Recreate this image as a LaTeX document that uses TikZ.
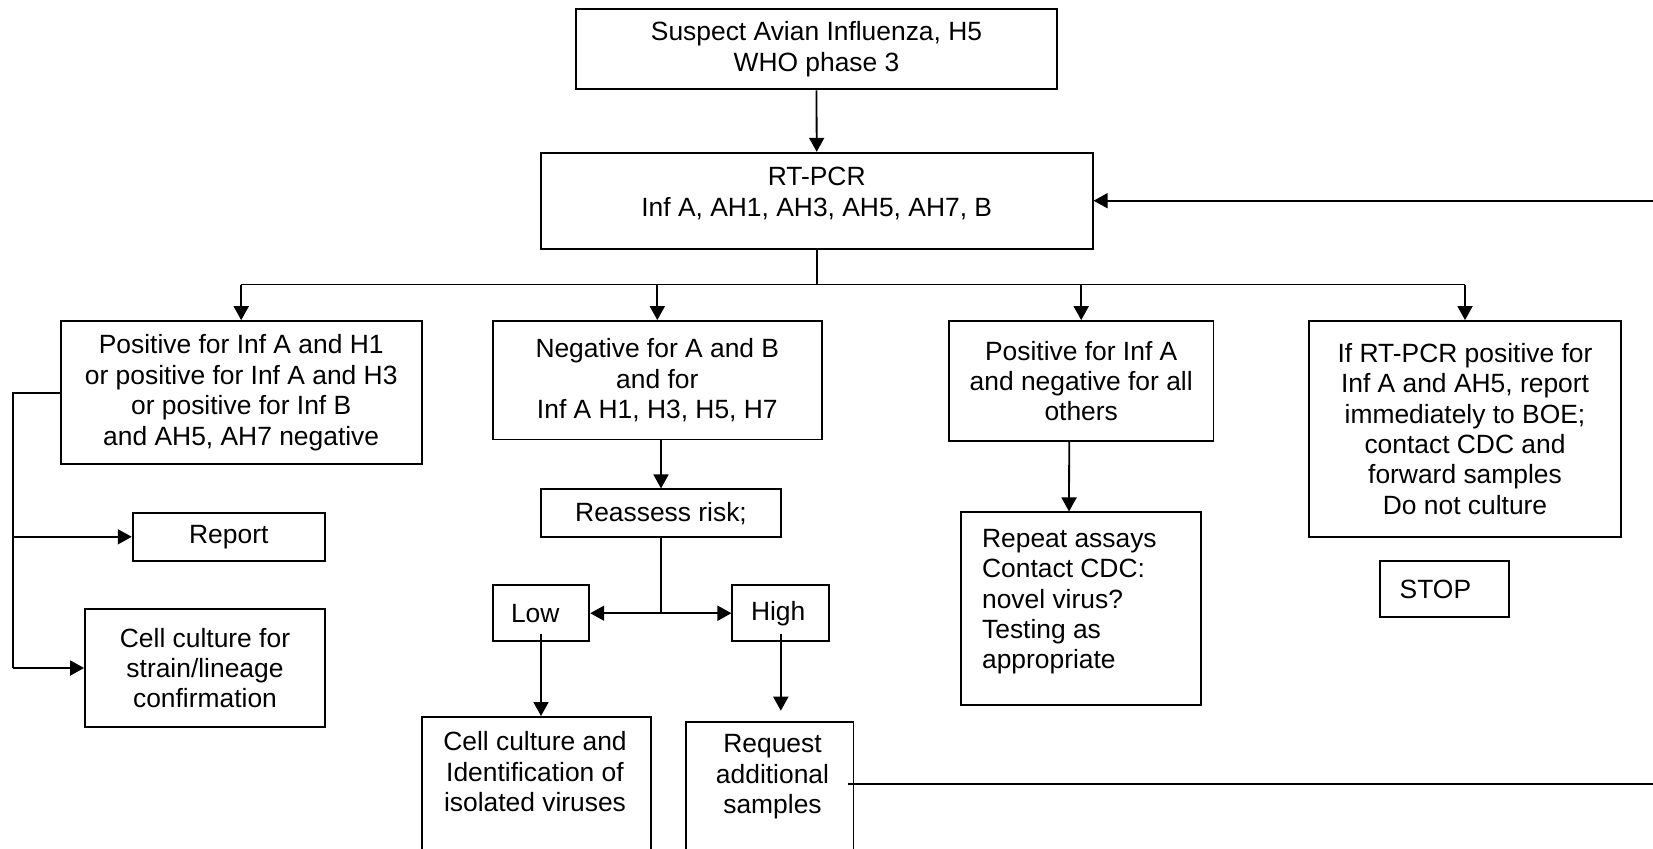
\documentclass[tikz,border=0pt]{standalone}
\usepackage{fontspec}
\setmainfont{Liberation Sans}
\usetikzlibrary{arrows.meta}
\newcommand\diagfont{\fontsize{13.2pt}{15.2pt}\selectfont}
\tikzset{
  box/.style={draw, line width=0.9pt, align=center, inner sep=0pt, font=\diagfont},
  lbox/.style={box, align=left},
  txt/.style={inner sep=0pt, align=center, font=\diagfont},
  ltxt/.style={txt, align=left},
  conn/.style={line width=0.9pt},
  arr/.style={conn, -{Triangle[length=7pt,width=7.5pt]}},
}
\begin{document}
\begin{tikzpicture}[x=0.5pt,y=-0.5pt]
\useasboundingbox (0,0) rectangle (1653,848);
\clip (0,0) rectangle (1653,848);

% boxes
\node[box, minimum width=240.8pt, minimum height=40.15pt] (top) at (816.5,49.2) {Suspect Avian Influenza, H5\\WHO phase 3};
\node[box, minimum width=276pt, minimum height=48pt] (rt) at (816.7,200.7) {};
\node[txt, anchor=north] (rtT) at (816.7,167.1) {RT-PCR\\Inf A, AH1, AH3, AH5, AH7, B};
\node[box, minimum width=180.5pt, minimum height=71.65pt] (b1) at (241.2,392.7) {Positive for Inf A and H1\\or positive for Inf A and H3\\or positive for Inf B\\and AH5, AH7 negative};
\node[box, minimum width=164.4pt, minimum height=59.25pt] (b2) at (657.3,380.2) {Negative for A and B\\and for\\Inf A H1, H3, H5, H7};
\node[box, minimum width=132.25pt, minimum height=60pt] (b3) at (1081.2,381) {Positive for Inf A\\and negative for all\\others};
\node[box, minimum width=156.3pt, minimum height=107.85pt] (b4) at (1465,428.8) {If RT-PCR positive for\\Inf A and AH5, report\\immediately to BOE;\\contact CDC and\\forward samples\\Do not culture};
\node[box, minimum width=96.15pt, minimum height=24.15pt] (report) at (228.8,536.8) {Report};
\node[box, minimum width=120pt, minimum height=59pt] (cell1) at (205,668) {Cell culture for\\strain/lineage\\confirmation};
\node[box, minimum width=120.3pt, minimum height=23.85pt] (reassess) at (661,513.2) {Reassess risk;};
\node[lbox, minimum width=48.3pt, minimum height=28.15pt, text width=30pt, inner xsep=9.15pt] (low) at (541,613.2) {Low};
\node[lbox, minimum width=48.5pt, minimum height=28.15pt, text width=29.8pt, inner xsep=9.35pt] (high) at (780.8,613.2) {High};
\node[box, minimum width=120.3pt, minimum height=96.35pt] (repeat) at (1081,608.7) {};
\node[ltxt, anchor=north west] (repeatT) at (981.7,528.8) {Repeat assays\\Contact CDC:\\novel virus?\\Testing as\\appropriate};
\node[lbox, minimum width=64.2pt, minimum height=28.3pt, text width=44.8pt, inner xsep=9.7pt] (stop) at (1444.5,589) {STOP};
\node[box, anchor=north west, minimum width=114.5pt, minimum height=100pt] (cellLow) at (420.7,716) {};
\node[txt, anchor=north] (cellLowT) at (535,731.1) {Cell culture and\\Identification of\\isolated viruses};
\node[box, anchor=north west, minimum width=83.75pt, minimum height=100pt] (request) at (685,720.7) {};
\node[txt, anchor=north] (requestT) at (772.5,734.1) {Request\\additional\\samples};

% connectors
\draw[arr] (top.south) -- (rt.north);
\coordinate (bus) at (816.7,284.5);
\draw[conn] (rt.south) -- (bus);
\draw[conn] (b1.north |- bus) -- (b4.north |- bus);
\draw[arr] (b1.north |- bus) -- (b1.north);
\draw[arr] (b2.north |- bus) -- (b2.north);
\draw[arr] (b3.north |- bus) -- (b3.north);
\draw[arr] (b4.north |- bus) -- (b4.north);

\coordinate (lx) at (12.7,392.7);
\draw[conn] (b1.west) -- (lx) -- (lx |- cell1.west);
\draw[arr] (lx |- report.west) -- (report.west);
\draw[arr] (lx |- cell1.west) -- (cell1.west);

\draw[arr] (reassess.north |- b2.south) -- (reassess.north);
\coordinate (rj) at (reassess.south |- low.east);
\draw[conn] (reassess.south) -- (rj);
\draw[arr] (rj) -- (low.east);
\draw[arr] (rj) -- (high.west);
\draw[arr] ([yshift=4pt]low.south) -- (low.south |- cellLow.north);
\draw[arr] ([yshift=4pt]high.south) -- ([yshift=5pt]high.south |- request.north);

\draw[arr] ([xshift=-6pt]b3.south) -- ([xshift=-6pt]repeat.north);

\coordinate (eT) at (1653,200.7);
\coordinate (eB) at (1653,784);
\draw[arr] (eT) -- (rt.east);
\draw[conn] ([xshift=-3pt]request.east |- eB) -- (eB);
\end{tikzpicture}
\end{document}
